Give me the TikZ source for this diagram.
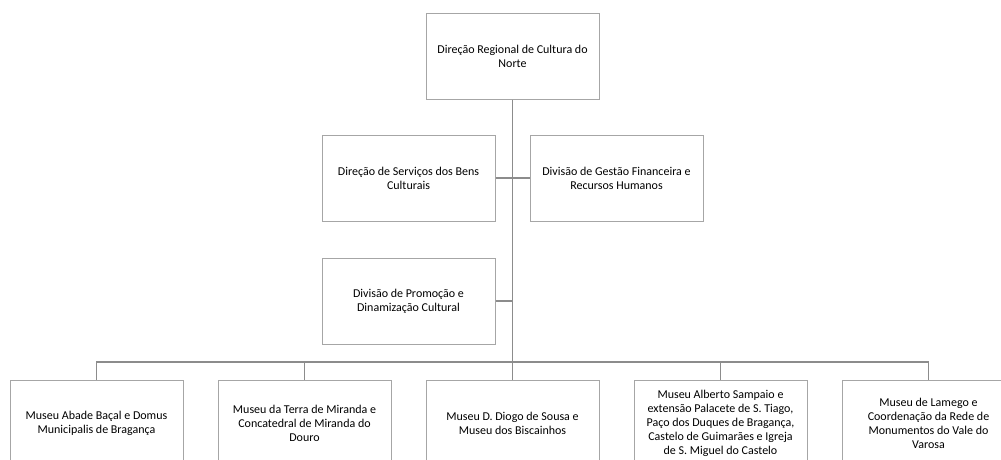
\documentclass[tikz,border=0pt]{standalone}
\usepackage{fontspec}
\setmainfont{Carlito}
\usepackage{tikz}
\usetikzlibrary{positioning}

\begin{document}
\begin{tikzpicture}[x=1pt, y=-1pt,
unit/.style={rectangle, draw=black!35, line width=1pt, fill=white,
minimum width=173pt, minimum height=86pt, align=center, inner sep=2pt,
font=\fontsize{12}{14}\selectfont},
%
link/.style={draw=black!45, line width=1.3pt}]

\clip (0,0) rectangle (1001,459);
\fill[white] (0,0) rectangle (1001,459);

\begin{scope}
  \node [unit] (direcao) at (512.5,56) {Direção Regional de Cultura do\\Norte};
  %%%%%%%%%%%%%%%%%%%%%%%%%%%%%%
  \node [unit] (servicos) at (408.5,178) {Direção de Serviços dos Bens\\Culturais};
  \node [unit] (gestao) at (616.5,178) {Divisão de Gestão Financeira e\\Recursos Humanos};
  \node [unit] (promocao) at (408.5,301) {Divisão de Promoção e\\Dinamização Cultural};
\end{scope}

\begin{scope}
  \node [unit] (abade) at (96.5,423) {Museu Abade Baçal e Domus\\Municipalis de Bragança};
  \node [unit] (miranda) at (304.5,423) {Museu da Terra de Miranda e\\Concatedral de Miranda do\\Douro};
  \node [unit] (diogo) at (512.5,423) {Museu D. Diogo de Sousa e\\Museu dos Biscainhos};
  \node [unit] (sampaio) at (720.5,423) {Museu Alberto Sampaio e\\extensão Palacete de S. Tiago,\\Paço dos Duques de Bragança,\\Castelo de Guimarães e Igreja\\de S. Miguel do Castelo};
  \node [unit] (lamego) at (928.5,423) {Museu de Lamego e\\Coordenação da Rede de\\Monumentos do Vale do\\Varosa};
\end{scope}

\begin{scope}
  \coordinate (bus) at (512.5,362);
  \draw [link] (direcao.south) -- (diogo.north);
  \draw [link] (servicos.east) -- (gestao.west);
  \draw [link] (promocao.east) -- (promocao.east -| direcao.south);
  %%%%%%%%%%%%%%%%%%%%%%%%%%%%%%
  \draw [link] (abade.north) |- (bus) -| (lamego.north);
  \draw [link] (miranda.north) -- (miranda.north |- bus);
  \draw [link] (sampaio.north) -- (sampaio.north |- bus);
\end{scope}

\end{tikzpicture}
\end{document}
